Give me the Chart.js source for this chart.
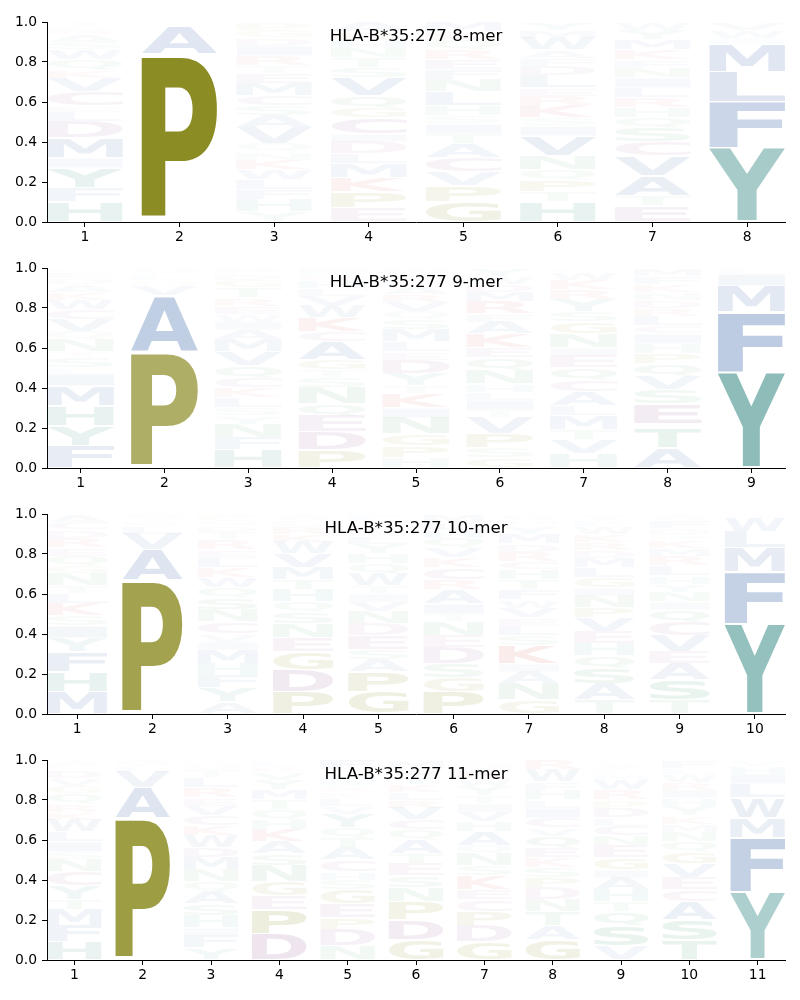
<!DOCTYPE html>
<html>
<head>
<meta charset="utf-8">
<script src="https://cdn.jsdelivr.net/npm/chart.js@4.4.1/dist/chart.umd.min.js"></script>
<style>
  body { margin: 0; background: #fff; }
  canvas { display: block; }
</style>
</head>
<body>
<canvas id="logo8" width="800" height="246"></canvas>
<canvas id="logo9" width="800" height="246"></canvas>
<canvas id="logo10" width="800" height="246"></canvas>
<canvas id="logo11" width="800" height="246"></canvas>
<script>
// letters of each column, bottom -> top, with their heights (frequency)
var titles = ["HLA-B*35:277 8-mer", "HLA-B*35:277 9-mer", "HLA-B*35:277 10-mer", "HLA-B*35:277 11-mer"];
var yTicks = [0, 0.2, 0.4, 0.6, 0.8, 1.0];

var letters8 = ["HFYIMDLECVKQWSART", "SPAV", "YHFLWKNQVASCMETRIDGP", "EPKMLDICGQVSTNHRA",
  "GPVCATISHLNFERQKM", "HTPQNVISKRELDFAWMY", "ETAVCSQHRLINFKMYW", "YFLMIWV"];
var heights8 = [
  [.10,.07,.10,.05,.10,.08,.05,.03,.07,.07,.04,.05,.05,.04,.04,.03,.03],
  [.02,.82,.14,.02],
  [.05,.06,.05,.05,.05,.05,.04,.04,.08,.06,.05,.05,.06,.05,.04,.05,.05,.04,.04,.04],
  [.07,.08,.07,.07,.05,.06,.04,.08,.05,.06,.09,.05,.05,.05,.04,.04,.05],
  [.10,.08,.07,.07,.07,.05,.05,.04,.05,.07,.06,.05,.05,.05,.05,.04,.05],
  [.10,.05,.06,.05,.07,.10,.05,.04,.06,.05,.04,.06,.05,.04,.04,.06,.04,.04],
  [.08,.05,.10,.10,.07,.07,.05,.05,.05,.05,.05,.05,.04,.05,.05,.05,.04],
  [.37,.23,.15,.14,.03,.04,.04]
];

var letters9 = ["FYHMILSTNQVCWKADER", "SPAVQLG", "HFNYSLKCQVMAIWERTGDP", "PDEQNSTGACKWVLHRI",
  "HPGNIKTYDELMSQVRAFCW", "GSPVTILHNQEKAFRMDWY", "HVTMLACQEINGSYRKWD", "ATGESVQPHICLRDNKFM", "YFMIL"];
var heights9 = [
  [.11,.10,.10,.10,.06,.03,.05,.03,.06,.04,.06,.05,.05,.04,.04,.03,.03,.02],
  [.01,.57,.28,.05,.03,.03,.03],
  [.09,.06,.07,.04,.04,.05,.05,.05,.06,.07,.06,.05,.04,.04,.04,.04,.05,.04,.03,.03],
  [.09,.09,.08,.06,.08,.05,.04,.05,.09,.05,.07,.06,.05,.04,.04,.03,.03],
  [.05,.06,.06,.08,.05,.07,.04,.06,.07,.04,.05,.06,.05,.04,.05,.04,.04,.03,.03,.03],
  [.05,.05,.07,.08,.04,.05,.04,.04,.07,.06,.05,.07,.06,.04,.06,.05,.04,.04,.04],
  [.07,.07,.05,.07,.05,.07,.06,.06,.06,.04,.07,.06,.05,.06,.05,.05,.04,.02],
  [.10,.10,.02,.10,.07,.07,.06,.05,.05,.05,.04,.05,.04,.04,.04,.04,.04,.04],
  [.48,.30,.13,.06,.03]
];

var letters10 = ["MHFYISKLTNGQERDCA", "SPAVLQG", "AYFHMIVCNSQWKLERTDGP", "PDGENSQHTMVWKRLA",
  "GPASEDNVITWQHYLRKMF", "PGSDENTIARCKVQHLM", "GNAIKSLEVWFTHCRDMYPQ", "TASQHEVPNIGLMDRKWFY",
  "TSAEVCQINYHLRMKGDFW", "YFMLWI"];
var heights10 = [
  [.11,.10,.10,.07,.06,.05,.06,.05,.04,.06,.04,.05,.04,.05,.04,.04,.04],
  [.01,.66,.15,.08,.04,.03,.03],
  [.06,.07,.06,.06,.07,.04,.04,.06,.06,.06,.05,.05,.05,.05,.04,.05,.04,.03,.03,.03],
  [.11,.11,.09,.07,.07,.06,.05,.06,.05,.06,.07,.06,.04,.04,.03,.03],
  [.11,.10,.06,.05,.07,.06,.06,.05,.04,.04,.06,.05,.05,.05,.04,.03,.03,.02,.03],
  [.11,.07,.07,.08,.06,.07,.04,.05,.07,.05,.06,.05,.05,.05,.04,.04,.04],
  [.07,.08,.06,.04,.09,.05,.05,.04,.05,.04,.05,.05,.05,.04,.05,.04,.05,.04,.03,.03],
  [.07,.08,.08,.06,.06,.06,.07,.05,.06,.04,.05,.05,.05,.04,.04,.04,.04,.03,.03],
  [.07,.10,.08,.06,.08,.07,.06,.04,.05,.04,.04,.05,.05,.04,.04,.03,.03,.04,.03],
  [.45,.26,.12,.08,.07,.02]
];

var letters11 = ["HFMTYCNSILWKRQGVDEA", "SPAVLG", "YFIHSAQNMDWKCVERLTGP", "DPEGNSAKHQTMYVRL",
  "NDPEGSHCATQYVLKRIMWF", "GDPNSETAQCVRLKYWM", "GDPCEKSNQAHVITYWRML", "GATNDPSKEQVCILHFWR",
  "VSQTHAIGENCLDPRWMFYK", "TSACEVGQNMKYHIRWLF", "YFMWLIHV"];
var heights11 = [
  [.09,.08,.08,.05,.07,.07,.06,.04,.05,.05,.06,.04,.04,.05,.04,.04,.04,.02,.03],
  [.01,.70,.15,.08,.03,.03],
  [.06,.06,.04,.06,.06,.06,.05,.06,.06,.05,.06,.05,.05,.05,.04,.05,.05,.04,.03,.02],
  [.13,.12,.07,.07,.08,.06,.06,.06,.05,.05,.05,.05,.05,.04,.03,.03],
  [.07,.08,.06,.07,.07,.05,.04,.06,.06,.05,.05,.07,.04,.04,.03,.03,.03,.03,.02,.05],
  [.10,.10,.09,.07,.06,.06,.05,.07,.05,.05,.06,.04,.04,.04,.04,.04,.04],
  [.09,.08,.07,.06,.05,.07,.05,.06,.04,.07,.05,.05,.04,.04,.05,.04,.04,.03,.02],
  [.10,.07,.07,.06,.06,.05,.05,.05,.05,.06,.04,.05,.05,.04,.05,.04,.06,.05],
  [.07,.10,.07,.05,.06,.06,.04,.06,.06,.05,.05,.04,.05,.04,.05,.05,.03,.02,.03,.02],
  [.10,.10,.09,.06,.06,.07,.06,.05,.05,.04,.04,.05,.04,.04,.04,.04,.03,.04],
  [.34,.27,.10,.10,.07,.05,.04,.03]
];

// colour groups of the residues
function letterRGB(ch) {
  if ("PG".indexOf(ch) >= 0) return [125, 125, 8];
  if ("YH".indexOf(ch) >= 0) return [38, 128, 121];
  if ("STNQ".indexOf(ch) >= 0) return [60, 154, 90];
  if ("DEC".indexOf(ch) >= 0) return [138, 74, 138];
  if ("KR".indexOf(ch) >= 0) return [208, 58, 58];
  return [58, 102, 170];
}

// small letters are drawn paler
function letterAlpha(h) {
  var a = h * 1.05 + 0.02 - 0.04 * Math.max(0, 1 - h / 0.2);
  return Math.min(0.95, a);
}

var glyphCache = {};
function glyphBox(ctx, ch) {
  if (!glyphCache[ch]) {
    ctx.save();
    ctx.font = 'bold 200px "DejaVu Sans"';
    var m = ctx.measureText(ch);
    glyphCache[ch] = { l: m.actualBoundingBoxLeft, r: m.actualBoundingBoxRight,
                       a: m.actualBoundingBoxAscent, d: m.actualBoundingBoxDescent };
    ctx.restore();
  }
  return glyphCache[ch];
}

// one floating bar dataset per stack level; the letter rides along in the point
function buildDatasets(letters, heights) {
  var depth = 0;
  letters.forEach(function (s) { depth = Math.max(depth, s.length); });
  var sets = [];
  for (var k = 0; k < depth; k++) {
    var data = [];
    for (var i = 0; i < letters.length; i++) {
      if (k >= letters[i].length) continue;
      var y0 = 0;
      for (var j = 0; j < k; j++) y0 += heights[i][j];
      data.push({ x: i + 1, y: [y0, y0 + heights[i][k]], c: letters[i][k], h: heights[i][k] });
    }
    sets.push({ data: data, backgroundColor: 'rgba(0,0,0,0)', borderWidth: 0 });
  }
  return sets;
}

var letterPlugin = {
  id: 'letters',
  afterDatasetsDraw: function (chart) {
    var ctx = chart.ctx;
    chart.data.datasets.forEach(function (ds, di) {
      var meta = chart.getDatasetMeta(di);
      meta.data.forEach(function (el, idx) {
        var pt = ds.data[idx];
        var p = el.getProps(['x', 'y', 'base', 'width'], true);
        var top = Math.min(p.y, p.base), bottom = Math.max(p.y, p.base);
        var pad = (bottom - top) * 0.012 + 0.4;
        top += pad; bottom -= pad;
        if (bottom - top < 0.5) return;
        var g = glyphBox(ctx, pt.c);
        var rgb = letterRGB(pt.c);
        ctx.save();
        ctx.translate(p.x - p.width / 2, top);
        ctx.scale(p.width / (g.l + g.r), (bottom - top) / (g.a + g.d));
        ctx.font = 'bold 200px "DejaVu Sans"';
        ctx.textAlign = 'left';
        ctx.textBaseline = 'alphabetic';
        ctx.fillStyle = 'rgba(' + rgb[0] + ',' + rgb[1] + ',' + rgb[2] + ',' + letterAlpha(pt.h) + ')';
        ctx.fillText(pt.c, g.l, g.a);
        ctx.restore();
      });
    });
  },
  afterDraw: function (chart) {
    var ctx = chart.ctx, a = chart.chartArea;
    ctx.save();
    ctx.font = '16.7px "DejaVu Sans"';
    ctx.fillStyle = '#000';
    ctx.textAlign = 'center';
    ctx.textBaseline = 'middle';
    ctx.fillText(chart.options.plugins.letters.title, (a.left + a.right) / 2, a.top + 14.5);
    ctx.restore();
  }
};

function makeLogo(id, title, letters, heights) {
  var n = letters.length;
  var positions = [];
  for (var i = 1; i <= n; i++) positions.push(i);
  var tickFont = { family: 'DejaVu Sans', size: 13.9 };
  return new Chart(document.getElementById(id), {
    type: 'bar',
    data: { datasets: buildDatasets(letters, heights) },
    plugins: [letterPlugin],
    options: {
      responsive: false,
      animation: false,
      events: [],
      layout: { padding: { left: 0, right: 15, top: 22, bottom: 0 } },
      datasets: { bar: { grouped: false, categoryPercentage: 1, barPercentage: 0.8 } },
      plugins: { legend: { display: false }, tooltip: { enabled: false }, letters: { title: title } },
      scales: {
        x: {
          type: 'linear', min: 0.6, max: n + 0.4, offset: false,
          afterBuildTicks: function (s) { s.ticks = positions.map(function (v) { return { value: v }; }); },
          afterFit: function (s) { s.height = 24; },
          grid: { display: true, drawOnChartArea: false, drawTicks: true, tickLength: 5, color: '#000', offset: false },
          border: { display: true, color: '#000', width: 1 },
          ticks: { font: tickFont, color: '#000', padding: 2, maxRotation: 0, autoSkip: false,
                   callback: function (v) { return String(v); } }
        },
        y: {
          min: 0, max: 1,
          afterBuildTicks: function (s) { s.ticks = yTicks.map(function (v) { return { value: v }; }); },
          afterFit: function (s) { s.width = 47; },
          grid: { display: true, drawOnChartArea: false, drawTicks: true, tickLength: 5, color: '#000' },
          border: { display: true, color: '#000', width: 1 },
          ticks: { font: tickFont, color: '#000', padding: 5,
                   callback: function (v) { return v.toFixed(1); } }
        }
      }
    }
  });
}

makeLogo('logo8', titles[0], letters8, heights8);
makeLogo('logo9', titles[1], letters9, heights9);
makeLogo('logo10', titles[2], letters10, heights10);
makeLogo('logo11', titles[3], letters11, heights11);
</script>
</body>
</html>
